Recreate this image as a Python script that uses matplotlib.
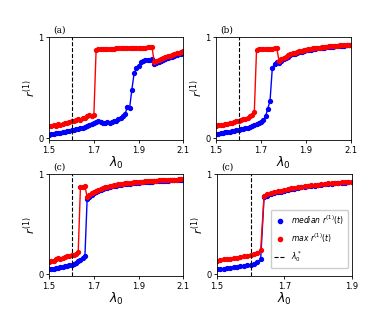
import matplotlib
matplotlib.use('agg')

import numpy as np
import matplotlib.pyplot as plt
from matplotlib.lines import Line2D

# lambda_0 grids
lam_abc = np.round(np.arange(1.50, 2.105, 0.01), 2)
lam_d = np.round(np.arange(1.50, 1.905, 0.01), 2)
lam_star = 1.6

# panel (a)
med_a = [0.033, 0.038, 0.042, 0.046, 0.050, 0.054, 0.058, 0.062, 0.067, 0.072,
         0.077, 0.082, 0.087, 0.091, 0.096, 0.102, 0.110, 0.120, 0.130, 0.140,
         0.152, 0.162, 0.165, 0.158, 0.150, 0.152, 0.155, 0.150, 0.155, 0.165,
         0.172, 0.185, 0.200, 0.215, 0.240, 0.310, 0.300, 0.480, 0.640, 0.690,
         0.715, 0.750, 0.765, 0.772, 0.776, 0.778, 0.782, 0.735, 0.748, 0.758,
         0.767, 0.776, 0.785, 0.793, 0.801, 0.808, 0.815, 0.822, 0.830, 0.837,
         0.845]
max_a = [0.115, 0.118, 0.125, 0.122, 0.135, 0.130, 0.140, 0.145, 0.150, 0.158,
         0.165, 0.170, 0.175, 0.185, 0.180, 0.195, 0.200, 0.215, 0.225, 0.215,
         0.225, 0.870, 0.878, 0.880, 0.882, 0.883, 0.884, 0.885, 0.886, 0.887,
         0.888, 0.889, 0.890, 0.890, 0.891, 0.892, 0.893, 0.893, 0.894, 0.895,
         0.895, 0.896, 0.897, 0.897, 0.898, 0.899, 0.900, 0.755, 0.766, 0.776,
         0.785, 0.793, 0.801, 0.809, 0.817, 0.825, 0.832, 0.839, 0.846, 0.853,
         0.860]

# panel (b)
med_b = [0.040, 0.044, 0.048, 0.052, 0.056, 0.060, 0.064, 0.068, 0.073, 0.078,
         0.083, 0.088, 0.093, 0.098, 0.104, 0.112, 0.122, 0.132, 0.142, 0.152,
         0.162, 0.175, 0.215, 0.290, 0.370, 0.690, 0.735, 0.755, 0.745, 0.765,
         0.782, 0.795, 0.808, 0.818, 0.828, 0.836, 0.844, 0.851, 0.857, 0.863,
         0.868, 0.873, 0.877, 0.881, 0.885, 0.888, 0.891, 0.894, 0.897, 0.900,
         0.903, 0.905, 0.907, 0.909, 0.911, 0.913, 0.915, 0.917, 0.918, 0.920,
         0.921]
max_b = [0.120, 0.125, 0.128, 0.132, 0.135, 0.140, 0.145, 0.150, 0.158, 0.165,
         0.172, 0.178, 0.185, 0.190, 0.195, 0.215, 0.225, 0.255, 0.875, 0.878,
         0.880, 0.882, 0.884, 0.885, 0.886, 0.887, 0.888, 0.890, 0.765, 0.780,
         0.795, 0.807, 0.819, 0.829, 0.838, 0.846, 0.853, 0.860, 0.866, 0.871,
         0.876, 0.880, 0.884, 0.888, 0.891, 0.894, 0.897, 0.900, 0.903, 0.906,
         0.908, 0.910, 0.912, 0.914, 0.916, 0.918, 0.920, 0.922, 0.923, 0.925,
         0.926]

# panel (c)
med_c = [0.048, 0.052, 0.056, 0.060, 0.064, 0.068, 0.072, 0.077, 0.082, 0.088,
         0.094, 0.100, 0.115, 0.130, 0.145, 0.160, 0.180, 0.750, 0.775, 0.795,
         0.810, 0.822, 0.833, 0.843, 0.851, 0.858, 0.865, 0.871, 0.876, 0.881,
         0.885, 0.889, 0.893, 0.896, 0.899, 0.902, 0.905, 0.908, 0.910, 0.912,
         0.914, 0.916, 0.918, 0.920, 0.922, 0.924, 0.925, 0.927, 0.928, 0.930,
         0.931, 0.933, 0.934, 0.935, 0.936, 0.938, 0.939, 0.940, 0.941, 0.942,
         0.943]
max_c = [0.125, 0.130, 0.135, 0.150, 0.160, 0.155, 0.160, 0.170, 0.180, 0.185,
         0.190, 0.195, 0.205, 0.220, 0.870, 0.875, 0.880, 0.770, 0.790, 0.808,
         0.822, 0.834, 0.844, 0.853, 0.861, 0.868, 0.874, 0.880, 0.885, 0.889,
         0.893, 0.897, 0.901, 0.904, 0.907, 0.910, 0.913, 0.915, 0.917, 0.919,
         0.921, 0.923, 0.925, 0.927, 0.929, 0.930, 0.932, 0.933, 0.935, 0.936,
         0.937, 0.939, 0.940, 0.941, 0.942, 0.943, 0.944, 0.945, 0.946, 0.947,
         0.948]

# panel (d)
med_d = [0.048, 0.052, 0.056, 0.060, 0.064, 0.068, 0.072, 0.077, 0.082, 0.088,
         0.094, 0.102, 0.118, 0.150, 0.770, 0.785, 0.798, 0.808, 0.818, 0.826,
         0.834, 0.841, 0.848, 0.854, 0.860, 0.866, 0.871, 0.876, 0.881, 0.885,
         0.889, 0.893, 0.897, 0.900, 0.904, 0.907, 0.910, 0.913, 0.915, 0.918,
         0.920]
max_d = [0.130, 0.140, 0.150, 0.155, 0.155, 0.160, 0.165, 0.170, 0.180, 0.185,
         0.195, 0.205, 0.215, 0.240, 0.785, 0.797, 0.808, 0.818, 0.827, 0.835,
         0.843, 0.850, 0.856, 0.862, 0.868, 0.873, 0.878, 0.883, 0.887, 0.891,
         0.895, 0.899, 0.902, 0.906, 0.909, 0.912, 0.915, 0.918, 0.920, 0.923,
         0.925]

panels = [
    ('(a)', lam_abc, med_a, max_a, [1.5, 1.7, 1.9, 2.1], (1.5, 2.1)),
    ('(b)', lam_abc, med_b, max_b, [1.5, 1.7, 1.9, 2.1], (1.5, 2.1)),
    ('(c)', lam_abc, med_c, max_c, [1.5, 1.7, 1.9, 2.1], (1.5, 2.1)),
    ('(c)', lam_d, med_d, max_d, [1.5, 1.7, 1.9], (1.5, 1.9)),
]

# axes rectangles in figure fractions
rects = [
    [0.126, 0.551, 0.344, 0.330],
    [0.554, 0.551, 0.346, 0.330],
    [0.126, 0.115, 0.344, 0.327],
    [0.556, 0.115, 0.346, 0.327],
]

fig = plt.figure(figsize=(3.9, 3.12), dpi=100)

for (tag, lam, med, mx, xt, xl), rect in zip(panels, rects):
    ax = fig.add_axes(rect)
    ax.plot(lam, med, color='b', marker='o', markersize=2.8, lw=1)
    ax.plot(lam, mx, color='r', marker='o', markersize=2.8, lw=1)
    ax.axvline(lam_star, color='k', ls='--', lw=0.8)
    ax.set_xlim(*xl)
    ax.set_ylim(-0.02, 1.0)
    ax.set_xticks(xt)
    ax.set_xticklabels([f'{v:.1f}' for v in xt])
    ax.set_yticks([0, 1])
    ax.tick_params(labelsize=6, length=2.5, width=0.6, pad=1.5)
    for s in ax.spines.values():
        s.set_linewidth(0.6)
    ax.set_xlabel(r'$\lambda_0$', fontsize=9, labelpad=0)
    ax.set_ylabel(r'$r^{(1)}$', fontsize=8, labelpad=0)
    ax.text(0.03, 1.03, tag, transform=ax.transAxes, fontsize=6.5,
            family='serif', va='bottom', ha='left')
    if xl[1] == 1.9:
        handles = [
            Line2D([], [], color='b', marker='o', ls='none', markersize=3),
            Line2D([], [], color='r', marker='o', ls='none', markersize=3),
            Line2D([], [], color='k', ls='--', lw=0.8),
        ]
        labels = [r'$median\ r^{(1)}(t)$', r'$max\ r^{(1)}(t)$',
                  r'$\lambda_0^*$']
        ax.legend(handles, labels, loc='lower right', fontsize=5.5,
                  handlelength=1.4, handletextpad=0.8, borderpad=0.5,
                  labelspacing=0.6, frameon=True, fancybox=True,
                  framealpha=1, bbox_to_anchor=(1.0, 0.04))

plt.savefig('out.png', dpi=100)
